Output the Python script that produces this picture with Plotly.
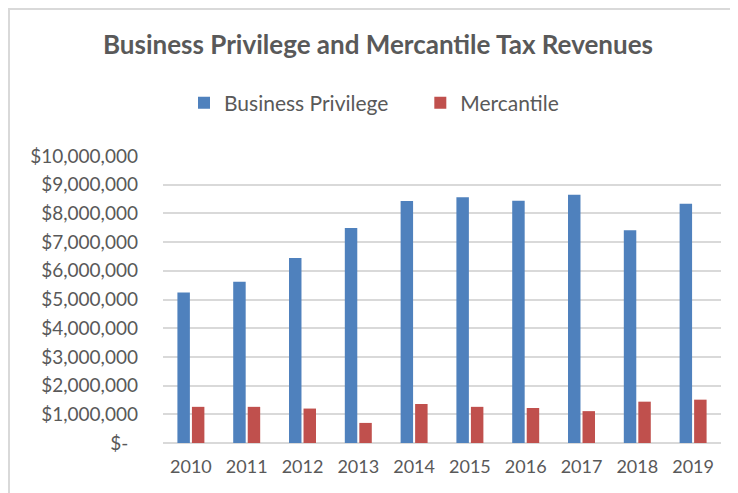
import plotly.graph_objects as go

years = ["2010", "2011", "2012", "2013", "2014", "2015", "2016", "2017", "2018", "2019"]
business_privilege = [5240000, 5620000, 6450000, 7490000, 8430000, 8560000, 8440000, 8650000, 7410000, 8340000]
mercantile = [1260000, 1260000, 1200000, 700000, 1360000, 1260000, 1220000, 1110000, 1440000, 1510000]
series_names = ["Business Privilege", "Mercantile"]
y_tickvals = [0, 1000000, 2000000, 3000000, 4000000, 5000000, 6000000, 7000000, 8000000, 9000000, 10000000]
y_ticktext = ["$-\u00a0\u00a0", "$1,000,000", "$2,000,000", "$3,000,000", "$4,000,000", "$5,000,000",
              "$6,000,000", "$7,000,000", "$8,000,000", "$9,000,000", "$10,000,000"]

TEXT = "#595959"
FONT = "Lato"
W, H = 738, 493
# plot area in figure pixels (page body adds ~8px offset)
L, R, T, B = 155, 713, 148, 435

fig = go.Figure()
fig.add_trace(go.Bar(name=series_names[0] + "\u00a0\u00a0\u00a0\u00a0\u00a0", x=years, y=business_privilege,
                     marker=dict(color="#4F81BD", line=dict(width=0))))
fig.add_trace(go.Bar(name=series_names[1], x=years, y=mercantile,
                     marker=dict(color="#C0504D", line=dict(width=0))))

fig.update_layout(
    width=W, height=H,
    margin=dict(l=L, r=W - R, t=T, b=H - B),
    paper_bgcolor="white", plot_bgcolor="white",
    barmode="group", bargap=0.48, bargroupgap=0.14,
    font=dict(family=FONT, color=TEXT, size=18),
    title=dict(text="<b>Business Privilege and Mercantile Tax Revenues</b>",
               font=dict(family=FONT, size=26, color=TEXT),
               xref="container", x=370 / W, xanchor="center",
               yref="container", y=1 - 37 / H, yanchor="middle"),
    legend=dict(orientation="h", xref="container", x=366 / W, xanchor="center",
                yref="container", y=1 - 95 / H, yanchor="middle",
                font=dict(family=FONT, size=21, color=TEXT),
                itemwidth=30, traceorder="normal"),
    showlegend=True,
    xaxis=dict(showgrid=False, showline=False, ticks="", ticklabelstandoff=11,
               tickfont=dict(family=FONT, size=18, color=TEXT)),
    yaxis=dict(range=[0, 10000000], tickvals=y_tickvals, ticktext=y_ticktext,
               showgrid=True, gridcolor="#D9D9D9", gridwidth=2,
               zeroline=True, zerolinecolor="#D9D9D9", zerolinewidth=2,
               showline=False, ticks="", ticklabelstandoff=24,
               tickfont=dict(family=FONT, size=19, color=TEXT)),
    shapes=[dict(type="rect", xref="paper", yref="paper",
                 x0=(1 - L) / (R - L), x1=1.2, y0=-0.3, y1=(B - 1) / (B - T),
                 line=dict(color="#D9D9D9", width=2), fillcolor="rgba(0,0,0,0)",
                 layer="below")],
)

fig.write_html("out.html")
